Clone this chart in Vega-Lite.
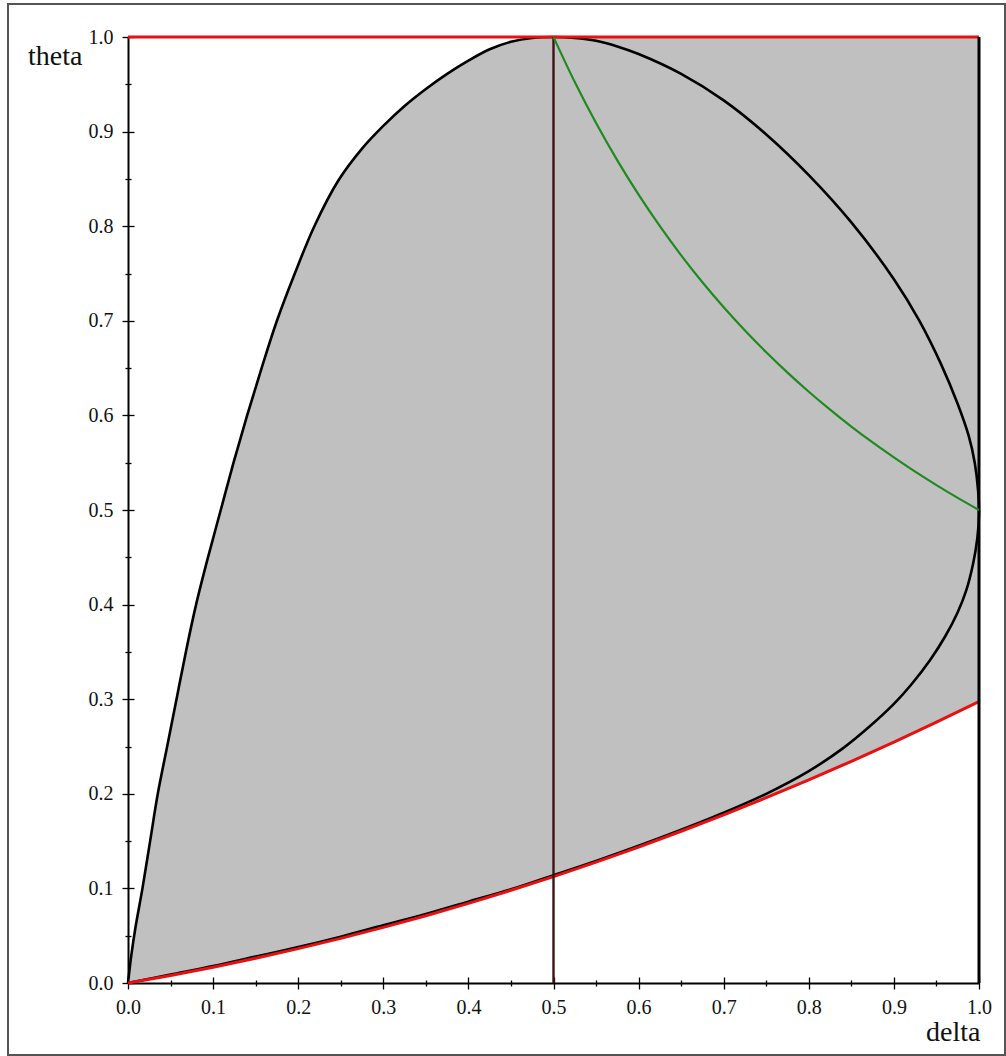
{
  "$schema": "https://vega.github.io/schema/vega-lite/v6.json",
  "width": 997,
  "height": 1051,
  "autosize": {"type": "none"},
  "padding": {"left": 8, "top": 4, "right": 1, "bottom": 1},
  "background": "white",
  "config": {
    "view": {"stroke": "#555555", "strokeWidth": 2},
    "axis": {
      "grid": false,
      "labelFont": "Liberation Serif",
      "titleFont": "Liberation Serif",
      "labelFontSize": 20,
      "titleFontSize": 28,
      "titleFontWeight": "normal",
      "labelColor": "#111111",
      "titleColor": "#111111",
      "domainColor": "#000000",
      "tickColor": "#000000",
      "zindex": 1
    }
  },
  "resolve": {"axis": {"x": "independent", "y": "independent"}},
  "datasets": {
    "fill": [
      {"d": 0, "hi": 0, "lo": 0},
      {"d": 0.004, "hi": 0.03, "lo": 0.0006},
      {"d": 0.009, "hi": 0.06, "lo": 0.0014},
      {"d": 0.017, "hi": 0.1, "lo": 0.0026},
      {"d": 0.026, "hi": 0.15, "lo": 0.0041},
      {"d": 0.035, "hi": 0.2, "lo": 0.0055},
      {"d": 0.046, "hi": 0.25, "lo": 0.0073},
      {"d": 0.057, "hi": 0.3, "lo": 0.0092},
      {"d": 0.068, "hi": 0.35, "lo": 0.011},
      {"d": 0.08, "hi": 0.4, "lo": 0.0131},
      {"d": 0.094, "hi": 0.45, "lo": 0.0156},
      {"d": 0.109, "hi": 0.5, "lo": 0.0184},
      {"d": 0.124, "hi": 0.55, "lo": 0.0211},
      {"d": 0.14, "hi": 0.6, "lo": 0.0242},
      {"d": 0.157, "hi": 0.65, "lo": 0.0275},
      {"d": 0.175, "hi": 0.7, "lo": 0.0311},
      {"d": 0.196, "hi": 0.75, "lo": 0.0355},
      {"d": 0.219, "hi": 0.8, "lo": 0.0404},
      {"d": 0.247, "hi": 0.848, "lo": 0.0465},
      {"d": 0.275, "hi": 0.882, "lo": 0.0529},
      {"d": 0.3, "hi": 0.906, "lo": 0.0588},
      {"d": 0.325, "hi": 0.927, "lo": 0.0649},
      {"d": 0.35, "hi": 0.945, "lo": 0.0711},
      {"d": 0.375, "hi": 0.961, "lo": 0.0776},
      {"d": 0.4, "hi": 0.975, "lo": 0.0842},
      {"d": 0.425, "hi": 0.987, "lo": 0.091},
      {"d": 0.45, "hi": 0.995, "lo": 0.098},
      {"d": 0.475, "hi": 0.999, "lo": 0.1051},
      {"d": 0.5, "hi": 1.0, "lo": 0.1125},
      {"d": 0.55, "hi": 1.0, "lo": 0.1277},
      {"d": 0.6, "hi": 1.0, "lo": 0.1437},
      {"d": 0.65, "hi": 1.0, "lo": 0.1604},
      {"d": 0.7, "hi": 1.0, "lo": 0.1778},
      {"d": 0.75, "hi": 1.0, "lo": 0.1959},
      {"d": 0.8, "hi": 1.0, "lo": 0.2148},
      {"d": 0.85, "hi": 1.0, "lo": 0.2344},
      {"d": 0.9, "hi": 1.0, "lo": 0.2547},
      {"d": 0.95, "hi": 1.0, "lo": 0.2757},
      {"d": 1.0, "hi": 1.0, "lo": 0.2975}
    ],
    "loop": [
      {"i": 0, "d": 0, "t": 0},
      {"i": 1, "d": 0.004, "t": 0.03},
      {"i": 2, "d": 0.009, "t": 0.06},
      {"i": 3, "d": 0.017, "t": 0.1},
      {"i": 4, "d": 0.026, "t": 0.15},
      {"i": 5, "d": 0.035, "t": 0.2},
      {"i": 6, "d": 0.046, "t": 0.25},
      {"i": 7, "d": 0.057, "t": 0.3},
      {"i": 8, "d": 0.068, "t": 0.35},
      {"i": 9, "d": 0.08, "t": 0.4},
      {"i": 10, "d": 0.094, "t": 0.45},
      {"i": 11, "d": 0.109, "t": 0.5},
      {"i": 12, "d": 0.124, "t": 0.55},
      {"i": 13, "d": 0.14, "t": 0.6},
      {"i": 14, "d": 0.157, "t": 0.65},
      {"i": 15, "d": 0.175, "t": 0.7},
      {"i": 16, "d": 0.196, "t": 0.75},
      {"i": 17, "d": 0.219, "t": 0.8},
      {"i": 18, "d": 0.247, "t": 0.848},
      {"i": 19, "d": 0.275, "t": 0.882},
      {"i": 20, "d": 0.3, "t": 0.906},
      {"i": 21, "d": 0.325, "t": 0.927},
      {"i": 22, "d": 0.35, "t": 0.945},
      {"i": 23, "d": 0.375, "t": 0.961},
      {"i": 24, "d": 0.4, "t": 0.975},
      {"i": 25, "d": 0.425, "t": 0.987},
      {"i": 26, "d": 0.45, "t": 0.995},
      {"i": 27, "d": 0.475, "t": 0.999},
      {"i": 28, "d": 0.5, "t": 1.0},
      {"i": 29, "d": 0.525, "t": 0.999},
      {"i": 30, "d": 0.55, "t": 0.996},
      {"i": 31, "d": 0.575, "t": 0.99},
      {"i": 32, "d": 0.6, "t": 0.982},
      {"i": 33, "d": 0.65, "t": 0.961},
      {"i": 34, "d": 0.7, "t": 0.933},
      {"i": 35, "d": 0.75, "t": 0.897},
      {"i": 36, "d": 0.8, "t": 0.854},
      {"i": 37, "d": 0.85, "t": 0.804},
      {"i": 38, "d": 0.9, "t": 0.744},
      {"i": 39, "d": 0.93, "t": 0.7},
      {"i": 40, "d": 0.955, "t": 0.655},
      {"i": 41, "d": 0.975, "t": 0.612},
      {"i": 42, "d": 0.988, "t": 0.578},
      {"i": 43, "d": 0.995, "t": 0.55},
      {"i": 44, "d": 0.999, "t": 0.52},
      {"i": 45, "d": 1.0, "t": 0.495},
      {"i": 46, "d": 0.998, "t": 0.47},
      {"i": 47, "d": 0.993, "t": 0.443},
      {"i": 48, "d": 0.985, "t": 0.415},
      {"i": 49, "d": 0.975, "t": 0.392},
      {"i": 50, "d": 0.96, "t": 0.366},
      {"i": 51, "d": 0.943, "t": 0.342},
      {"i": 52, "d": 0.92, "t": 0.315},
      {"i": 53, "d": 0.9, "t": 0.295},
      {"i": 54, "d": 0.87, "t": 0.27},
      {"i": 55, "d": 0.84, "t": 0.248},
      {"i": 56, "d": 0.8, "t": 0.224},
      {"i": 57, "d": 0.75, "t": 0.2},
      {"i": 58, "d": 0.7, "t": 0.18},
      {"i": 59, "d": 0.65, "t": 0.162},
      {"i": 60, "d": 0.6, "t": 0.145},
      {"i": 61, "d": 0.55, "t": 0.129},
      {"i": 62, "d": 0.5, "t": 0.114},
      {"i": 63, "d": 0.45, "t": 0.099},
      {"i": 64, "d": 0.4, "t": 0.086},
      {"i": 65, "d": 0.35, "t": 0.073},
      {"i": 66, "d": 0.3, "t": 0.061},
      {"i": 67, "d": 0.25, "t": 0.049},
      {"i": 68, "d": 0.2, "t": 0.038},
      {"i": 69, "d": 0.15, "t": 0.028},
      {"i": 70, "d": 0.1, "t": 0.018},
      {"i": 71, "d": 0.05, "t": 0.009},
      {"i": 72, "d": 0, "t": 0}
    ],
    "redlow": [
      {"d": 0, "t": 0},
      {"d": 0.05, "t": 0.008},
      {"d": 0.1, "t": 0.0167},
      {"d": 0.15, "t": 0.0261},
      {"d": 0.2, "t": 0.0363},
      {"d": 0.25, "t": 0.0472},
      {"d": 0.3, "t": 0.0588},
      {"d": 0.35, "t": 0.0711},
      {"d": 0.4, "t": 0.0842},
      {"d": 0.45, "t": 0.098},
      {"d": 0.5, "t": 0.1125},
      {"d": 0.55, "t": 0.1277},
      {"d": 0.6, "t": 0.1437},
      {"d": 0.65, "t": 0.1604},
      {"d": 0.7, "t": 0.1778},
      {"d": 0.75, "t": 0.1959},
      {"d": 0.8, "t": 0.2148},
      {"d": 0.85, "t": 0.2344},
      {"d": 0.9, "t": 0.2547},
      {"d": 0.95, "t": 0.2757},
      {"d": 1.0, "t": 0.2975}
    ],
    "green": [
      {"d": 0.5, "t": 1.0},
      {"d": 0.525, "t": 0.9524},
      {"d": 0.55, "t": 0.9091},
      {"d": 0.575, "t": 0.8696},
      {"d": 0.6, "t": 0.8333},
      {"d": 0.625, "t": 0.8},
      {"d": 0.65, "t": 0.7692},
      {"d": 0.675, "t": 0.7407},
      {"d": 0.7, "t": 0.7143},
      {"d": 0.725, "t": 0.6897},
      {"d": 0.75, "t": 0.6667},
      {"d": 0.775, "t": 0.6452},
      {"d": 0.8, "t": 0.625},
      {"d": 0.825, "t": 0.6061},
      {"d": 0.85, "t": 0.5882},
      {"d": 0.875, "t": 0.5714},
      {"d": 0.9, "t": 0.5556},
      {"d": 0.925, "t": 0.5405},
      {"d": 0.95, "t": 0.5263},
      {"d": 0.975, "t": 0.5128},
      {"d": 1.0, "t": 0.5}
    ]
  },
  "layer": [
    {
      "data": {"name": "fill"},
      "mark": {"type": "area", "color": "#c0c0c0", "opacity": 1, "interpolate": "monotone"},
      "encoding": {
        "x": {
          "field": "d", "type": "quantitative",
          "scale": {"domain": [0, 1], "range": [120, 971], "nice": false, "zero": false},
          "axis": {
            "orient": "bottom", "offset": -72,
            "values": [0, 0.1, 0.2, 0.3, 0.4, 0.5, 0.6, 0.7, 0.8, 0.9, 1.0],
            "format": ".1f", "domain": true, "domainWidth": 2,
            "ticks": false, "tickSize": 0, "labelPadding": 30, "labelBaseline": "alphabetic",
            "labelOverlap": false, "labelFlush": false,
            "title": "delta", "titleAngle": 0, "titleAlign": "right", "titleX": 972, "titleY": 57,
            "titleBaseline": "alphabetic"
          }
        },
        "y": {
          "field": "hi", "type": "quantitative",
          "scale": {"domain": [0, 1], "range": [979, 33], "nice": false, "zero": false},
          "axis": {
            "orient": "left", "offset": -120,
            "values": [0, 0.1, 0.2, 0.3, 0.4, 0.5, 0.6, 0.7, 0.8, 0.9, 1.0],
            "format": ".1f", "domain": true, "domainWidth": 2,
            "ticks": false, "tickSize": 0, "labelPadding": 15, "labelBaseline": "middle", "labelAlign": "right",
            "labelOverlap": false, "labelFlush": false,
            "title": "theta", "titleAngle": 0, "titleAlign": "right", "titleX": -46, "titleY": 60,
            "titleBaseline": "alphabetic"
          }
        },
        "y2": {"field": "lo"}
      }
    },
    {
      "data": {"name": "loop"},
      "mark": {"type": "line", "color": "#000000", "strokeWidth": 2.6, "interpolate": "catmull-rom"},
      "encoding": {
        "x": {
          "field": "d", "type": "quantitative",
          "scale": {"domain": [0, 1], "range": [120, 971], "nice": false, "zero": false},
          "axis": {
            "orient": "bottom", "offset": -78,
            "values": [0, 0.1, 0.2, 0.3, 0.4, 0.5, 0.6, 0.7, 0.8, 0.9, 1.0],
            "domain": false, "labels": false, "ticks": true, "tickSize": 12, "tickWidth": 1.3, "title": null
          }
        },
        "y": {
          "field": "t", "type": "quantitative",
          "scale": {"domain": [0, 1], "range": [979, 33], "nice": false, "zero": false},
          "axis": {
            "orient": "left", "offset": -126,
            "values": [0, 0.1, 0.2, 0.3, 0.4, 0.5, 0.6, 0.7, 0.8, 0.9, 1.0],
            "domain": false, "labels": false, "ticks": true, "tickSize": 12, "tickWidth": 1.3, "title": null
          }
        },
        "order": {"field": "i", "type": "quantitative"}
      }
    },
    {
      "data": {"name": "redlow"},
      "mark": {"type": "line", "color": "#e81010", "strokeWidth": 3, "interpolate": "monotone"},
      "encoding": {
        "x": {
          "field": "d", "type": "quantitative",
          "scale": {"domain": [0, 1], "range": [120, 971], "nice": false, "zero": false},
          "axis": {
            "orient": "bottom", "offset": -75,
            "values": [0.05, 0.15, 0.25, 0.35, 0.45, 0.55, 0.65, 0.75, 0.85, 0.95],
            "domain": false, "labels": false, "ticks": true, "tickSize": 6, "tickWidth": 1.3, "title": null
          }
        },
        "y": {
          "field": "t", "type": "quantitative",
          "scale": {"domain": [0, 1], "range": [979, 33], "nice": false, "zero": false},
          "axis": {
            "orient": "left", "offset": -123,
            "values": [0.05, 0.15, 0.25, 0.35, 0.45, 0.55, 0.65, 0.75, 0.85, 0.95],
            "domain": false, "labels": false, "ticks": true, "tickSize": 6, "tickWidth": 1.3, "title": null
          }
        }
      }
    },
    {
      "data": {"values": [{"a": 0, "b": 1, "t": 1}]},
      "mark": {"type": "rule", "color": "#e81010", "strokeWidth": 3},
      "encoding": {
        "x": {"field": "a", "type": "quantitative", "scale": {"domain": [0, 1], "range": [120, 971], "nice": false, "zero": false}, "axis": null},
        "x2": {"field": "b"},
        "y": {"field": "t", "type": "quantitative", "scale": {"domain": [0, 1], "range": [979, 33], "nice": false, "zero": false}, "axis": null}
      }
    },
    {
      "data": {"values": [{"d": 0.5, "lo": 0, "hi": 1}]},
      "mark": {"type": "rule", "color": "#3d1414", "strokeWidth": 2.4},
      "encoding": {
        "x": {"field": "d", "type": "quantitative", "scale": {"domain": [0, 1], "range": [120, 971], "nice": false, "zero": false}, "axis": null},
        "y": {"field": "lo", "type": "quantitative", "scale": {"domain": [0, 1], "range": [979, 33], "nice": false, "zero": false}, "axis": null},
        "y2": {"field": "hi"}
      }
    },
    {
      "data": {"values": [{"d": 1, "lo": 0, "hi": 1}]},
      "mark": {"type": "rule", "color": "#000000", "strokeWidth": 3},
      "encoding": {
        "x": {"field": "d", "type": "quantitative", "scale": {"domain": [0, 1], "range": [120, 971], "nice": false, "zero": false}, "axis": null},
        "y": {"field": "lo", "type": "quantitative", "scale": {"domain": [0, 1], "range": [979, 33], "nice": false, "zero": false}, "axis": null},
        "y2": {"field": "hi"}
      }
    },
    {
      "data": {"name": "green"},
      "mark": {"type": "line", "color": "#1f8a1f", "strokeWidth": 2.2, "interpolate": "monotone"},
      "encoding": {
        "x": {"field": "d", "type": "quantitative", "scale": {"domain": [0, 1], "range": [120, 971], "nice": false, "zero": false}, "axis": null},
        "y": {"field": "t", "type": "quantitative", "scale": {"domain": [0, 1], "range": [979, 33], "nice": false, "zero": false}, "axis": null}
      }
    }
  ]
}
